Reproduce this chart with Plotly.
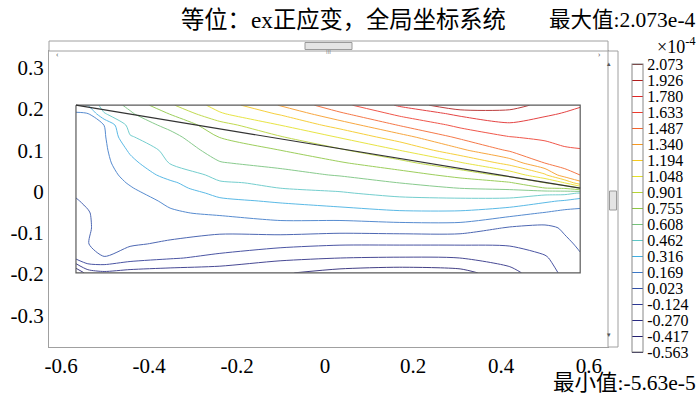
import plotly.graph_objects as go

# ---------------- data (strain ex, units 1e-4) ----------------
x_vals = [-0.566, -0.539, -0.502, -0.443, -0.352, -0.239, -0.102, 0.034, 0.170, 0.307, 0.420, 0.500, 0.545, 0.580]
y_vals = [0.209, 0.188, 0.161, 0.132, 0.100, 0.069, 0.040, 0.021, 0.008, -0.004, -0.023, -0.052, -0.088, -0.127, -0.161, -0.197]

# one list per column (top -> bottom)
col_values = [
    [0.30, 0.14, 0.12, 0.11, 0.10, 0.09, 0.07, 0.05, 0.045, 0.035, 0.015, -0.01, -0.03, -0.06, -0.09, -0.563],
    [0.32, 0.16, 0.13, 0.12, 0.11, 0.10, 0.09, 0.08, 0.07, 0.06, 0.04, 0.015, 0.012, 0.02, 0.02, -0.35],
    [0.53, 0.45, 0.17, 0.15, 0.14, 0.13, 0.12, 0.11, 0.10, 0.095, 0.085, 0.07, 0.06, 0.06, 0.018, -0.30],
    [0.64, 0.59, 0.52, 0.45, 0.34, 0.27, 0.21, 0.18, 0.16, 0.14, 0.12, 0.10, 0.07, 0.04, -0.06, -0.33],
    [0.88, 0.76, 0.65, 0.56, 0.51, 0.47, 0.37, 0.29, 0.26, 0.23, 0.19, 0.155, 0.09, 0.0, -0.11, -0.35],
    [1.11, 1.03, 0.84, 0.76, 0.67, 0.60, 0.50, 0.45, 0.41, 0.35, 0.29, 0.19, 0.07, -0.05, -0.16, -0.36],
    [1.35, 1.21, 1.05, 0.89, 0.755, 0.65, 0.56, 0.48, 0.462, 0.40, 0.33, 0.24, 0.10, -0.08, -0.24, -0.40],
    [1.59, 1.46, 1.26, 1.06, 0.88, 0.74, 0.62, 0.53, 0.49, 0.45, 0.38, 0.25, 0.09, -0.11, -0.27, -0.47],
    [1.80, 1.67, 1.50, 1.28, 1.05, 0.85, 0.69, 0.61, 0.55, 0.50, 0.42, 0.29, 0.10, -0.11, -0.28, -0.50],
    [2.06, 1.81, 1.67, 1.52, 1.31, 1.03, 0.80, 0.68, 0.61, 0.52, 0.43, 0.29, 0.10, -0.11, -0.27, -0.47],
    [2.00, 1.86, 1.76, 1.63, 1.51, 1.25, 0.95, 0.74, 0.64, 0.53, 0.42, 0.22, 0.01, -0.11, -0.20, -0.32],
    [1.87, 1.80, 1.72, 1.66, 1.57, 1.49, 1.17, 0.90, 0.75, 0.50, 0.34, 0.16, -0.01, -0.06, -0.14, -0.17],
    [1.82, 1.77, 1.71, 1.67, 1.62, 1.53, 1.44, 1.05, 0.77, 0.50, 0.30, 0.12, 0.04, 0.00, -0.05, -0.10],
    [1.79, 1.75, 1.70, 1.66, 1.63, 1.56, 1.49, 1.30, 0.90, 0.45, 0.25, 0.12, 0.08, 0.04, 0.01, -0.10],
]

level_labels = ["2.073", "1.926", "1.780", "1.633", "1.487", "1.340", "1.194", "1.048", "0.901",
                "0.755", "0.608", "0.462", "0.316", "0.169", "0.023", "-0.124", "-0.270", "-0.417", "-0.563"]
level_colors = ["#6e0f0f", "#b01c1c", "#e02424", "#ee3a2c", "#f4622a", "#f7981f", "#f5c81c", "#e4e024",
                "#b6d432", "#8cc640", "#74c27a", "#5cc6c6", "#3eaee2", "#3a78c8", "#2f4ea6", "#2c3894",
                "#282a82", "#221e70", "#1a1246"]
z_min, z_max = -0.563, 2.073

# geometry of the domain (rectangle + inclined line)
rect_x = [-0.566, 0.580, 0.580, -0.566, -0.566]
rect_y = [0.209, 0.209, -0.197, -0.197, 0.209]
diag_x = [-0.566, 0.580]
diag_y = [0.209, 0.008]

x_ticks = [-0.6, -0.4, -0.2, 0, 0.2, 0.4, 0.6]
y_ticks = [0.3, 0.2, 0.1, 0, -0.1, -0.2, -0.3]

# ---------------- figure ----------------
z = [list(row) for row in zip(*col_values)]
levels = sorted(float(v) for v in level_labels)
n = len(levels)
colorscale = [[(lv - z_min) / (z_max - z_min), c] for lv, c in zip(levels, reversed(level_colors))]
colorscale[0][0] = 0.0
colorscale[-1][0] = 1.0
step = (z_max - z_min) / (n - 1)

SERIF = "Liberation Serif, Times New Roman, serif"
CJK = "Liberation Serif, Noto Sans CJK SC, serif"

L, R, T, B = 49, 608, 51, 347
def px(xp):
    return (xp - L) / (R - L)
def py(yp):
    return (B - yp) / (B - T)

fig = go.Figure()
fig.add_trace(go.Contour(
    x=x_vals, y=y_vals, z=z,
    zmin=z_min, zmax=z_max, zauto=False,
    autocontour=False,
    contours=dict(start=z_min, end=z_max + 1e-4, size=step, coloring="lines"),
    line=dict(width=1, smoothing=0.7),
    opacity=0.85,
    colorscale=colorscale,
    colorbar=dict(
        x=px(632), xanchor="left", y=py(208), yanchor="middle",
        lenmode="pixels", len=288, thickness=11, thicknessmode="pixels",
        ypad=0, xpad=0,
        outlinewidth=1, outlinecolor="#888",
        tickmode="array", tickvals=levels, ticktext=list(reversed(level_labels)),
        ticks="", tickfont=dict(family=SERIF, size=16, color="black"),
    ),
    hoverinfo="skip",
))
fig.add_trace(go.Scatter(x=rect_x, y=rect_y, mode="lines", line=dict(color="#5a5a5a", width=1.2),
                         showlegend=False, hoverinfo="skip"))
fig.add_trace(go.Scatter(x=diag_x, y=diag_y, mode="lines", line=dict(color="#333", width=1.2),
                         showlegend=False, hoverinfo="skip"))

shapes = [
    # horizontal scroll bar
    dict(type="rect", xref="paper", yref="paper", x0=px(49), x1=px(608), y0=py(51), y1=py(41),
         line=dict(color="#a0a0a0", width=1), fillcolor="white"),
    dict(type="rect", xref="paper", yref="paper", x0=px(305), x1=px(352), y0=py(49.5), y1=py(42.5),
         line=dict(color="#9a9a9a", width=1), fillcolor="#e4e4e4"),
    # vertical scroll bar
    dict(type="rect", xref="paper", yref="paper", x0=px(608), x1=px(618), y0=py(347), y1=py(51),
         line=dict(color="#a0a0a0", width=1), fillcolor="white"),
    dict(type="rect", xref="paper", yref="paper", x0=px(609.5), x1=px(616.5), y0=py(210), y1=py(191),
         line=dict(color="#9a9a9a", width=1), fillcolor="#e4e4e4"),
]
annotations = [
    dict(text="等位：ex正应变，全局坐标系统", xref="paper", yref="paper",
         x=px(508), y=py(20.5), xanchor="right", yanchor="middle", showarrow=False,
         font=dict(family=CJK, size=23.3, color="black")),
    dict(text="最大值:2.073e-4", xref="paper", yref="paper",
         x=px(698), y=py(20.5), xanchor="right", yanchor="middle", showarrow=False,
         font=dict(family=CJK, size=21.5, color="black")),
    dict(text="×10<sup>-4</sup>", xref="paper", yref="paper",
         x=px(698), y=py(45.5), xanchor="right", yanchor="middle", showarrow=False,
         font=dict(family=SERIF, size=18, color="black")),
    dict(text="最小值:-5.63e-5", xref="paper", yref="paper",
         x=px(698), y=py(383), xanchor="right", yanchor="middle", showarrow=False,
         font=dict(family=CJK, size=21.5, color="black")),
    dict(text="‹", xref="paper", yref="paper", x=px(54), y=py(46), showarrow=False,
         font=dict(size=8, color="#555")),
    dict(text="›", xref="paper", yref="paper", x=px(603), y=py(46), showarrow=False,
         font=dict(size=8, color="#555")),
    dict(text="III", xref="paper", yref="paper", x=px(328.5), y=py(46), showarrow=False,
         font=dict(size=6, color="#777")),
    dict(text="▴", xref="paper", yref="paper", x=px(613), y=py(57), showarrow=False,
         font=dict(size=7, color="#555")),
    dict(text="▾", xref="paper", yref="paper", x=px(613), y=py(341), showarrow=False,
         font=dict(size=7, color="#555")),
]

fig.update_layout(
    width=700, height=393,
    margin=dict(l=L, r=700 - R, t=T, b=393 - B, autoexpand=False),
    paper_bgcolor="white", plot_bgcolor="white",
    showlegend=False,
    shapes=shapes, annotations=annotations,
    xaxis=dict(range=[-0.6273, 0.6432], tickvals=x_ticks, ticktext=[f"{v:g}" for v in x_ticks],
               showgrid=False, zeroline=False, showline=True, mirror=True, linecolor="#a0a0a0",
               ticks="", tickfont=dict(family=SERIF, size=21, color="black"), automargin=False),
    yaxis=dict(range=[-0.3765, 0.3402], tickvals=y_ticks, ticktext=[f"{v:g}" for v in y_ticks],
               showgrid=False, zeroline=False, showline=True, mirror=True, linecolor="#a0a0a0",
               ticks="", tickfont=dict(family=SERIF, size=21, color="black"), automargin=False),
)

fig.write_html("out.html", config={"displayModeBar": False},
               post_script="document.body.style.margin='0';document.body.style.overflow='hidden';")
